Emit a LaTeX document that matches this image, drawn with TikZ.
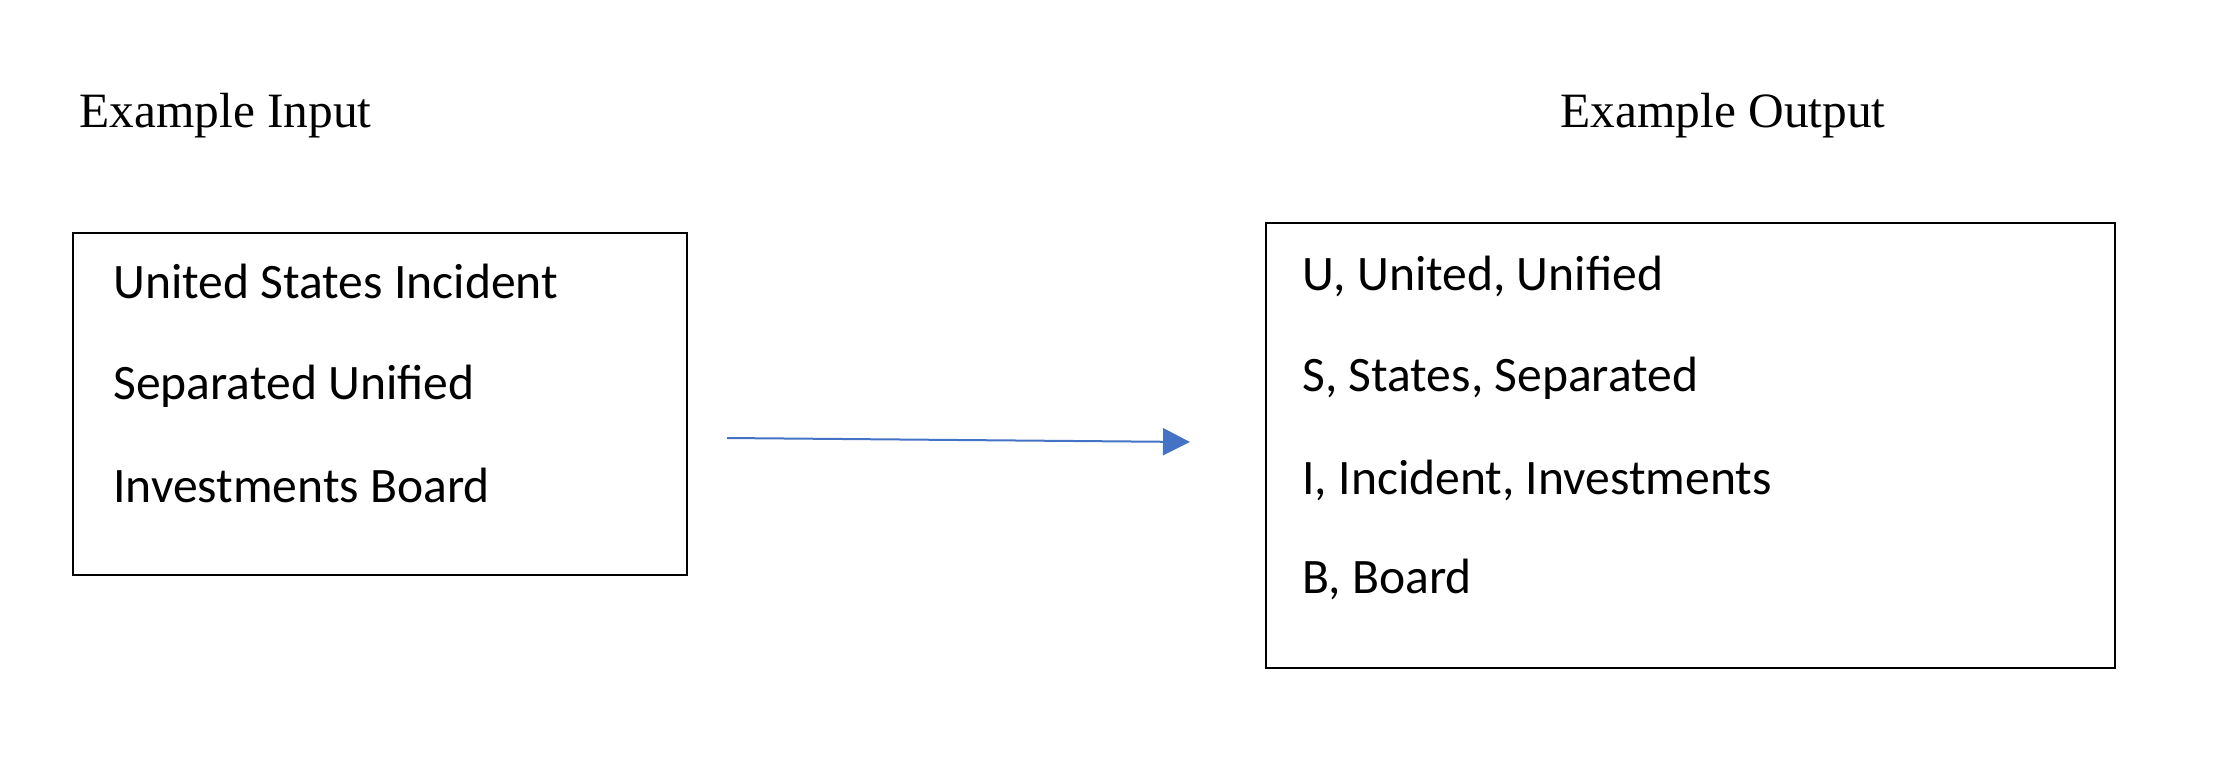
\documentclass[tikz,border=0pt]{standalone}
\usepackage{fontspec}
\setmainfont{Liberation Serif}
\newfontfamily\boxfont{Carlito}
\usetikzlibrary{arrows.meta}
\definecolor{arrowblue}{HTML}{4472C4}
\tikzset{
  box/.style={draw=black, line width=1.3pt, rectangle, inner sep=0pt},
  title/.style={anchor=base west, inner sep=0pt, font=\fontsize{24.7}{29}\selectfont},
  item/.style={anchor=base west, inner sep=0pt, font=\boxfont\fontsize{24.8}{29}\selectfont},
  conn/.style={draw=arrowblue, line width=1pt, -{Triangle[length=13.5pt,width=13.5pt]}}
}
\begin{document}
\begin{tikzpicture}[x=0.5pt,y=-0.5pt]
\useasboundingbox (0,0) rectangle (2215,782);
\node[title] (tin) at (79,127) {Example Input};
\node[title] (tout) at (1560,127) {Example Output};
\node[box, minimum width=307pt, minimum height=171pt] (inbox) at (380,404) {};
\node[box, minimum width=424.5pt, minimum height=222.5pt] (outbox) at (1690.5,445.5) {};
\node[item] (i1) at (113,298) {United States Incident};
\node[item] (i2) at (113,399) {Separated Unified};
\node[item] (i3) at (113,502) {Investments Board};
\node[item] (o1) at (1302,290) {U, United, Unified};
\node[item] (o2) at (1302,391) {S, States, Separated};
\node[item] (o3) at (1302,494) {I, Incident, Investments};
\node[item] (o4) at (1302,593) {B, Board};
\coordinate (a1) at (727,438);
\coordinate (a2) at (1190,442);
\draw[conn] (a1) -- (a2);
\end{tikzpicture}
\end{document}
